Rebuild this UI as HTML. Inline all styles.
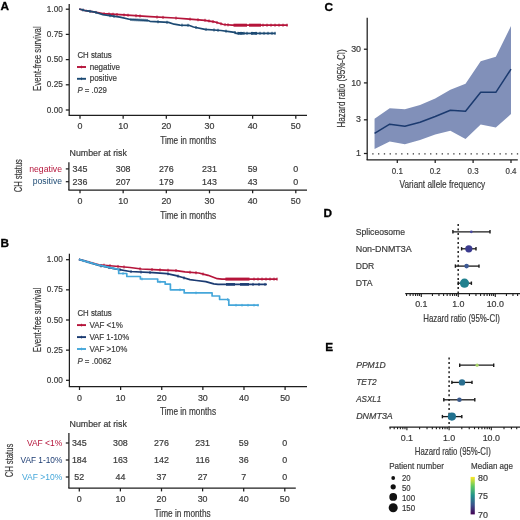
<!DOCTYPE html>
<html><head><meta charset="utf-8"><style>
html,body{margin:0;padding:0;background:#fff;width:520px;height:520px;overflow:hidden}
svg{display:block;font-family:"Liberation Sans", sans-serif;will-change:transform}
</style></head><body>
<svg width="520" height="520" viewBox="0 0 520 520">
<text x="0.60" y="10.30" font-size="11.8" fill="#000" stroke="#000" stroke-width="0.3" font-weight="bold">A</text>
<line x1="69.20" y1="4.00" x2="69.20" y2="115.40" stroke="#1e1e1e" stroke-width="1.25" />
<line x1="68.65" y1="115.40" x2="307.00" y2="115.40" stroke="#1e1e1e" stroke-width="1.25" />
<line x1="65.80" y1="9.20" x2="69.20" y2="9.20" stroke="#1e1e1e" stroke-width="1.25" />
<text x="62.80" y="11.80" font-size="8.9" fill="#3a3a3a" stroke="#3a3a3a" stroke-width="0.2" text-anchor="end" textLength="16.00" lengthAdjust="spacingAndGlyphs">1.00</text>
<line x1="65.80" y1="34.40" x2="69.20" y2="34.40" stroke="#1e1e1e" stroke-width="1.25" />
<text x="62.80" y="37.00" font-size="8.9" fill="#3a3a3a" stroke="#3a3a3a" stroke-width="0.2" text-anchor="end" textLength="16.00" lengthAdjust="spacingAndGlyphs">0.75</text>
<line x1="65.80" y1="59.60" x2="69.20" y2="59.60" stroke="#1e1e1e" stroke-width="1.25" />
<text x="62.80" y="62.20" font-size="8.9" fill="#3a3a3a" stroke="#3a3a3a" stroke-width="0.2" text-anchor="end" textLength="16.00" lengthAdjust="spacingAndGlyphs">0.50</text>
<line x1="65.80" y1="84.80" x2="69.20" y2="84.80" stroke="#1e1e1e" stroke-width="1.25" />
<text x="62.80" y="87.40" font-size="8.9" fill="#3a3a3a" stroke="#3a3a3a" stroke-width="0.2" text-anchor="end" textLength="16.00" lengthAdjust="spacingAndGlyphs">0.25</text>
<line x1="65.80" y1="110.00" x2="69.20" y2="110.00" stroke="#1e1e1e" stroke-width="1.25" />
<text x="62.80" y="112.60" font-size="8.9" fill="#3a3a3a" stroke="#3a3a3a" stroke-width="0.2" text-anchor="end" textLength="16.00" lengthAdjust="spacingAndGlyphs">0.00</text>
<line x1="80.00" y1="115.40" x2="80.00" y2="118.80" stroke="#1e1e1e" stroke-width="1.25" />
<text x="80.00" y="129.00" font-size="8.9" fill="#3a3a3a" stroke="#3a3a3a" stroke-width="0.2" text-anchor="middle">0</text>
<line x1="123.16" y1="115.40" x2="123.16" y2="118.80" stroke="#1e1e1e" stroke-width="1.25" />
<text x="123.16" y="129.00" font-size="8.9" fill="#3a3a3a" stroke="#3a3a3a" stroke-width="0.2" text-anchor="middle">10</text>
<line x1="166.32" y1="115.40" x2="166.32" y2="118.80" stroke="#1e1e1e" stroke-width="1.25" />
<text x="166.32" y="129.00" font-size="8.9" fill="#3a3a3a" stroke="#3a3a3a" stroke-width="0.2" text-anchor="middle">20</text>
<line x1="209.48" y1="115.40" x2="209.48" y2="118.80" stroke="#1e1e1e" stroke-width="1.25" />
<text x="209.48" y="129.00" font-size="8.9" fill="#3a3a3a" stroke="#3a3a3a" stroke-width="0.2" text-anchor="middle">30</text>
<line x1="252.64" y1="115.40" x2="252.64" y2="118.80" stroke="#1e1e1e" stroke-width="1.25" />
<text x="252.64" y="129.00" font-size="8.9" fill="#3a3a3a" stroke="#3a3a3a" stroke-width="0.2" text-anchor="middle">40</text>
<line x1="295.80" y1="115.40" x2="295.80" y2="118.80" stroke="#1e1e1e" stroke-width="1.25" />
<text x="295.80" y="129.00" font-size="8.9" fill="#3a3a3a" stroke="#3a3a3a" stroke-width="0.2" text-anchor="middle">50</text>
<text x="188.20" y="143.70" font-size="10.4" fill="#3a3a3a" stroke="#3a3a3a" stroke-width="0.2" text-anchor="middle" textLength="56.00" lengthAdjust="spacingAndGlyphs">Time in months</text>
<text x="40.60" y="58.60" font-size="10.4" fill="#3a3a3a" stroke="#3a3a3a" stroke-width="0.2" text-anchor="middle" textLength="64.60" lengthAdjust="spacingAndGlyphs" transform="rotate(-90 40.60 58.60)">Event-free survival</text>
<path d="M79.20,9.00 L85.60,10.70 L95.20,12.20 L102.90,13.60 L120.00,14.70 L150.00,16.70 L175.00,18.00 L186.50,18.90 L205.00,20.30 L214.20,21.80 L223.50,24.50 L232.00,25.20 L287.70,25.20" stroke="#b5143a" stroke-width="1.7" fill="none" stroke-linejoin="round"/>
<line x1="104.00" y1="12.17" x2="104.00" y2="15.17" stroke="#b5143a" stroke-width="1.0" />
<line x1="109.00" y1="12.49" x2="109.00" y2="15.49" stroke="#b5143a" stroke-width="1.0" />
<line x1="113.00" y1="12.75" x2="113.00" y2="15.75" stroke="#b5143a" stroke-width="1.0" />
<line x1="117.00" y1="13.01" x2="117.00" y2="16.01" stroke="#b5143a" stroke-width="1.0" />
<line x1="124.00" y1="13.47" x2="124.00" y2="16.47" stroke="#b5143a" stroke-width="1.0" />
<line x1="128.00" y1="13.73" x2="128.00" y2="16.73" stroke="#b5143a" stroke-width="1.0" />
<line x1="136.00" y1="14.27" x2="136.00" y2="17.27" stroke="#b5143a" stroke-width="1.0" />
<line x1="140.00" y1="14.53" x2="140.00" y2="17.53" stroke="#b5143a" stroke-width="1.0" />
<line x1="157.00" y1="15.56" x2="157.00" y2="18.56" stroke="#b5143a" stroke-width="1.0" />
<line x1="163.00" y1="15.88" x2="163.00" y2="18.88" stroke="#b5143a" stroke-width="1.0" />
<line x1="176.00" y1="16.58" x2="176.00" y2="19.58" stroke="#b5143a" stroke-width="1.0" />
<line x1="190.00" y1="17.66" x2="190.00" y2="20.66" stroke="#b5143a" stroke-width="1.0" />
<line x1="198.00" y1="18.27" x2="198.00" y2="21.27" stroke="#b5143a" stroke-width="1.0" />
<line x1="205.00" y1="18.80" x2="205.00" y2="21.80" stroke="#b5143a" stroke-width="1.0" />
<line x1="209.00" y1="19.45" x2="209.00" y2="22.45" stroke="#b5143a" stroke-width="1.0" />
<line x1="213.00" y1="20.10" x2="213.00" y2="23.10" stroke="#b5143a" stroke-width="1.0" />
<line x1="217.00" y1="21.11" x2="217.00" y2="24.11" stroke="#b5143a" stroke-width="1.0" />
<line x1="221.00" y1="22.27" x2="221.00" y2="25.27" stroke="#b5143a" stroke-width="1.0" />
<line x1="225.00" y1="23.12" x2="225.00" y2="26.12" stroke="#b5143a" stroke-width="1.0" />
<line x1="228.00" y1="23.37" x2="228.00" y2="26.37" stroke="#b5143a" stroke-width="1.0" />
<line x1="263.00" y1="23.70" x2="263.00" y2="26.70" stroke="#b5143a" stroke-width="1.0" />
<line x1="267.00" y1="23.70" x2="267.00" y2="26.70" stroke="#b5143a" stroke-width="1.0" />
<line x1="271.00" y1="23.70" x2="271.00" y2="26.70" stroke="#b5143a" stroke-width="1.0" />
<line x1="275.00" y1="23.70" x2="275.00" y2="26.70" stroke="#b5143a" stroke-width="1.0" />
<line x1="279.00" y1="23.70" x2="279.00" y2="26.70" stroke="#b5143a" stroke-width="1.0" />
<line x1="283.00" y1="23.70" x2="283.00" y2="26.70" stroke="#b5143a" stroke-width="1.0" />
<line x1="287.00" y1="23.70" x2="287.00" y2="26.70" stroke="#b5143a" stroke-width="1.0" />
<rect x="233.50" y="23.70" width="13.50" height="3.00" fill="#b5143a"/>
<rect x="249.00" y="23.70" width="12.00" height="3.00" fill="#b5143a"/>
<path d="M79.20,9.00 L85.60,10.70 L95.20,12.20 L102.90,14.60 L120.00,17.20 L130.40,19.50 L147.70,20.50 L150.00,21.30 L168.50,22.40 L174.20,24.20 L180.00,25.10 L188.80,25.30 L193.50,27.00 L205.00,29.30 L221.00,30.50 L229.20,31.60 L234.60,32.30 L236.00,33.30 L275.60,33.30" stroke="#1c4a73" stroke-width="1.7" fill="none" stroke-linejoin="round"/>
<line x1="83.00" y1="8.51" x2="83.00" y2="11.51" stroke="#1c4a73" stroke-width="1.0" />
<line x1="90.00" y1="9.89" x2="90.00" y2="12.89" stroke="#1c4a73" stroke-width="1.0" />
<line x1="96.00" y1="10.95" x2="96.00" y2="13.95" stroke="#1c4a73" stroke-width="1.0" />
<line x1="110.00" y1="14.18" x2="110.00" y2="17.18" stroke="#1c4a73" stroke-width="1.0" />
<line x1="114.00" y1="14.79" x2="114.00" y2="17.79" stroke="#1c4a73" stroke-width="1.0" />
<line x1="131.00" y1="18.03" x2="131.00" y2="21.03" stroke="#1c4a73" stroke-width="1.0" />
<line x1="133.00" y1="18.15" x2="133.00" y2="21.15" stroke="#1c4a73" stroke-width="1.0" />
<line x1="135.00" y1="18.27" x2="135.00" y2="21.27" stroke="#1c4a73" stroke-width="1.0" />
<line x1="137.00" y1="18.38" x2="137.00" y2="21.38" stroke="#1c4a73" stroke-width="1.0" />
<line x1="139.00" y1="18.50" x2="139.00" y2="21.50" stroke="#1c4a73" stroke-width="1.0" />
<line x1="141.00" y1="18.61" x2="141.00" y2="21.61" stroke="#1c4a73" stroke-width="1.0" />
<line x1="143.00" y1="18.73" x2="143.00" y2="21.73" stroke="#1c4a73" stroke-width="1.0" />
<line x1="145.00" y1="18.84" x2="145.00" y2="21.84" stroke="#1c4a73" stroke-width="1.0" />
<line x1="147.00" y1="18.96" x2="147.00" y2="21.96" stroke="#1c4a73" stroke-width="1.0" />
<line x1="158.00" y1="20.28" x2="158.00" y2="23.28" stroke="#1c4a73" stroke-width="1.0" />
<line x1="167.00" y1="20.81" x2="167.00" y2="23.81" stroke="#1c4a73" stroke-width="1.0" />
<line x1="182.00" y1="23.65" x2="182.00" y2="26.65" stroke="#1c4a73" stroke-width="1.0" />
<line x1="188.00" y1="23.78" x2="188.00" y2="26.78" stroke="#1c4a73" stroke-width="1.0" />
<line x1="196.00" y1="26.00" x2="196.00" y2="29.00" stroke="#1c4a73" stroke-width="1.0" />
<line x1="206.00" y1="27.88" x2="206.00" y2="30.88" stroke="#1c4a73" stroke-width="1.0" />
<line x1="214.00" y1="28.48" x2="214.00" y2="31.48" stroke="#1c4a73" stroke-width="1.0" />
<line x1="218.00" y1="28.77" x2="218.00" y2="31.77" stroke="#1c4a73" stroke-width="1.0" />
<line x1="226.00" y1="29.67" x2="226.00" y2="32.67" stroke="#1c4a73" stroke-width="1.0" />
<line x1="235.00" y1="31.09" x2="235.00" y2="34.09" stroke="#1c4a73" stroke-width="1.0" />
<line x1="238.00" y1="31.80" x2="238.00" y2="34.80" stroke="#1c4a73" stroke-width="1.0" />
<line x1="241.00" y1="31.80" x2="241.00" y2="34.80" stroke="#1c4a73" stroke-width="1.0" />
<line x1="244.00" y1="31.80" x2="244.00" y2="34.80" stroke="#1c4a73" stroke-width="1.0" />
<line x1="247.00" y1="31.80" x2="247.00" y2="34.80" stroke="#1c4a73" stroke-width="1.0" />
<line x1="252.00" y1="31.80" x2="252.00" y2="34.80" stroke="#1c4a73" stroke-width="1.0" />
<line x1="256.00" y1="31.80" x2="256.00" y2="34.80" stroke="#1c4a73" stroke-width="1.0" />
<line x1="260.00" y1="31.80" x2="260.00" y2="34.80" stroke="#1c4a73" stroke-width="1.0" />
<line x1="264.00" y1="31.80" x2="264.00" y2="34.80" stroke="#1c4a73" stroke-width="1.0" />
<line x1="268.00" y1="31.80" x2="268.00" y2="34.80" stroke="#1c4a73" stroke-width="1.0" />
<line x1="272.00" y1="31.80" x2="272.00" y2="34.80" stroke="#1c4a73" stroke-width="1.0" />
<line x1="275.00" y1="31.80" x2="275.00" y2="34.80" stroke="#1c4a73" stroke-width="1.0" />
<rect x="238.00" y="32.00" width="5.50" height="2.60" fill="#1c4a73"/>
<rect x="251.00" y="32.00" width="6.00" height="2.60" fill="#1c4a73"/>
<text x="77.40" y="57.70" font-size="9.2" fill="#3a3a3a" stroke="#3a3a3a" stroke-width="0.2" textLength="34.40" lengthAdjust="spacingAndGlyphs">CH status</text>
<line x1="77.00" y1="67.00" x2="86.00" y2="67.00" stroke="#b5143a" stroke-width="1.9" />
<line x1="81.50" y1="65.70" x2="81.50" y2="68.30" stroke="#b5143a" stroke-width="0.9" />
<line x1="77.00" y1="78.80" x2="86.00" y2="78.80" stroke="#1c4a73" stroke-width="1.9" />
<line x1="81.50" y1="77.50" x2="81.50" y2="80.10" stroke="#1c4a73" stroke-width="0.9" />
<text x="89.70" y="69.50" font-size="9.2" fill="#3a3a3a" stroke="#3a3a3a" stroke-width="0.2" textLength="30.30" lengthAdjust="spacingAndGlyphs">negative</text>
<text x="89.70" y="81.30" font-size="9.2" fill="#3a3a3a" stroke="#3a3a3a" stroke-width="0.2" textLength="27.20" lengthAdjust="spacingAndGlyphs">positive</text>
<text x="77.4" y="92.6" font-size="9.2" fill="#3a3a3a" stroke="#3a3a3a" stroke-width="0.2" textLength="29.5" lengthAdjust="spacingAndGlyphs"><tspan font-style="italic">P</tspan> = .029</text>
<text x="69.60" y="155.80" font-size="9.2" fill="#3a3a3a" stroke="#3a3a3a" stroke-width="0.2" textLength="57.30" lengthAdjust="spacingAndGlyphs">Number at risk</text>
<line x1="68.90" y1="162.30" x2="68.90" y2="190.00" stroke="#1e1e1e" stroke-width="1.25" />
<line x1="68.35" y1="190.00" x2="307.00" y2="190.00" stroke="#1e1e1e" stroke-width="1.25" />
<line x1="65.80" y1="168.90" x2="68.90" y2="168.90" stroke="#1e1e1e" stroke-width="1.25" />
<line x1="65.80" y1="181.70" x2="68.90" y2="181.70" stroke="#1e1e1e" stroke-width="1.25" />
<text x="62.00" y="171.60" font-size="9.2" fill="#b5143a" text-anchor="end" textLength="32.80" lengthAdjust="spacingAndGlyphs">negative</text>
<text x="62.00" y="184.40" font-size="9.2" fill="#1c4a73" text-anchor="end" textLength="29.20" lengthAdjust="spacingAndGlyphs">positive</text>
<text x="80.00" y="171.70" font-size="8.9" fill="#3a3a3a" stroke="#3a3a3a" stroke-width="0.2" text-anchor="middle">345</text>
<text x="80.00" y="184.50" font-size="8.9" fill="#3a3a3a" stroke="#3a3a3a" stroke-width="0.2" text-anchor="middle">236</text>
<line x1="80.00" y1="190.00" x2="80.00" y2="193.30" stroke="#1e1e1e" stroke-width="1.25" />
<text x="80.00" y="203.80" font-size="8.9" fill="#3a3a3a" stroke="#3a3a3a" stroke-width="0.2" text-anchor="middle">0</text>
<text x="123.16" y="171.70" font-size="8.9" fill="#3a3a3a" stroke="#3a3a3a" stroke-width="0.2" text-anchor="middle">308</text>
<text x="123.16" y="184.50" font-size="8.9" fill="#3a3a3a" stroke="#3a3a3a" stroke-width="0.2" text-anchor="middle">207</text>
<line x1="123.16" y1="190.00" x2="123.16" y2="193.30" stroke="#1e1e1e" stroke-width="1.25" />
<text x="123.16" y="203.80" font-size="8.9" fill="#3a3a3a" stroke="#3a3a3a" stroke-width="0.2" text-anchor="middle">10</text>
<text x="166.32" y="171.70" font-size="8.9" fill="#3a3a3a" stroke="#3a3a3a" stroke-width="0.2" text-anchor="middle">276</text>
<text x="166.32" y="184.50" font-size="8.9" fill="#3a3a3a" stroke="#3a3a3a" stroke-width="0.2" text-anchor="middle">179</text>
<line x1="166.32" y1="190.00" x2="166.32" y2="193.30" stroke="#1e1e1e" stroke-width="1.25" />
<text x="166.32" y="203.80" font-size="8.9" fill="#3a3a3a" stroke="#3a3a3a" stroke-width="0.2" text-anchor="middle">20</text>
<text x="209.48" y="171.70" font-size="8.9" fill="#3a3a3a" stroke="#3a3a3a" stroke-width="0.2" text-anchor="middle">231</text>
<text x="209.48" y="184.50" font-size="8.9" fill="#3a3a3a" stroke="#3a3a3a" stroke-width="0.2" text-anchor="middle">143</text>
<line x1="209.48" y1="190.00" x2="209.48" y2="193.30" stroke="#1e1e1e" stroke-width="1.25" />
<text x="209.48" y="203.80" font-size="8.9" fill="#3a3a3a" stroke="#3a3a3a" stroke-width="0.2" text-anchor="middle">30</text>
<text x="252.64" y="171.70" font-size="8.9" fill="#3a3a3a" stroke="#3a3a3a" stroke-width="0.2" text-anchor="middle">59</text>
<text x="252.64" y="184.50" font-size="8.9" fill="#3a3a3a" stroke="#3a3a3a" stroke-width="0.2" text-anchor="middle">43</text>
<line x1="252.64" y1="190.00" x2="252.64" y2="193.30" stroke="#1e1e1e" stroke-width="1.25" />
<text x="252.64" y="203.80" font-size="8.9" fill="#3a3a3a" stroke="#3a3a3a" stroke-width="0.2" text-anchor="middle">40</text>
<text x="295.80" y="171.70" font-size="8.9" fill="#3a3a3a" stroke="#3a3a3a" stroke-width="0.2" text-anchor="middle">0</text>
<text x="295.80" y="184.50" font-size="8.9" fill="#3a3a3a" stroke="#3a3a3a" stroke-width="0.2" text-anchor="middle">0</text>
<line x1="295.80" y1="190.00" x2="295.80" y2="193.30" stroke="#1e1e1e" stroke-width="1.25" />
<text x="295.80" y="203.80" font-size="8.9" fill="#3a3a3a" stroke="#3a3a3a" stroke-width="0.2" text-anchor="middle">50</text>
<text x="188.20" y="218.50" font-size="10.4" fill="#3a3a3a" stroke="#3a3a3a" stroke-width="0.2" text-anchor="middle" textLength="56.00" lengthAdjust="spacingAndGlyphs">Time in months</text>
<text x="22.40" y="175.70" font-size="10.4" fill="#3a3a3a" stroke="#3a3a3a" stroke-width="0.2" text-anchor="middle" textLength="33.20" lengthAdjust="spacingAndGlyphs" transform="rotate(-90 22.40 175.70)">CH status</text>
<text x="0.40" y="246.80" font-size="11.8" fill="#000" stroke="#000" stroke-width="0.3" font-weight="bold">B</text>
<line x1="69.40" y1="253.70" x2="69.40" y2="386.70" stroke="#1e1e1e" stroke-width="1.25" />
<line x1="68.85" y1="386.70" x2="307.00" y2="386.70" stroke="#1e1e1e" stroke-width="1.25" />
<line x1="66.00" y1="259.70" x2="69.40" y2="259.70" stroke="#1e1e1e" stroke-width="1.25" />
<text x="62.80" y="262.30" font-size="8.9" fill="#3a3a3a" stroke="#3a3a3a" stroke-width="0.2" text-anchor="end" textLength="16.00" lengthAdjust="spacingAndGlyphs">1.00</text>
<line x1="66.00" y1="289.85" x2="69.40" y2="289.85" stroke="#1e1e1e" stroke-width="1.25" />
<text x="62.80" y="292.45" font-size="8.9" fill="#3a3a3a" stroke="#3a3a3a" stroke-width="0.2" text-anchor="end" textLength="16.00" lengthAdjust="spacingAndGlyphs">0.75</text>
<line x1="66.00" y1="320.00" x2="69.40" y2="320.00" stroke="#1e1e1e" stroke-width="1.25" />
<text x="62.80" y="322.60" font-size="8.9" fill="#3a3a3a" stroke="#3a3a3a" stroke-width="0.2" text-anchor="end" textLength="16.00" lengthAdjust="spacingAndGlyphs">0.50</text>
<line x1="66.00" y1="350.15" x2="69.40" y2="350.15" stroke="#1e1e1e" stroke-width="1.25" />
<text x="62.80" y="352.75" font-size="8.9" fill="#3a3a3a" stroke="#3a3a3a" stroke-width="0.2" text-anchor="end" textLength="16.00" lengthAdjust="spacingAndGlyphs">0.25</text>
<line x1="66.00" y1="380.30" x2="69.40" y2="380.30" stroke="#1e1e1e" stroke-width="1.25" />
<text x="62.80" y="382.90" font-size="8.9" fill="#3a3a3a" stroke="#3a3a3a" stroke-width="0.2" text-anchor="end" textLength="16.00" lengthAdjust="spacingAndGlyphs">0.00</text>
<line x1="79.50" y1="386.70" x2="79.50" y2="390.00" stroke="#1e1e1e" stroke-width="1.25" />
<text x="79.50" y="400.50" font-size="8.9" fill="#3a3a3a" stroke="#3a3a3a" stroke-width="0.2" text-anchor="middle">0</text>
<line x1="120.62" y1="386.70" x2="120.62" y2="390.00" stroke="#1e1e1e" stroke-width="1.25" />
<text x="120.62" y="400.50" font-size="8.9" fill="#3a3a3a" stroke="#3a3a3a" stroke-width="0.2" text-anchor="middle">10</text>
<line x1="161.74" y1="386.70" x2="161.74" y2="390.00" stroke="#1e1e1e" stroke-width="1.25" />
<text x="161.74" y="400.50" font-size="8.9" fill="#3a3a3a" stroke="#3a3a3a" stroke-width="0.2" text-anchor="middle">20</text>
<line x1="202.86" y1="386.70" x2="202.86" y2="390.00" stroke="#1e1e1e" stroke-width="1.25" />
<text x="202.86" y="400.50" font-size="8.9" fill="#3a3a3a" stroke="#3a3a3a" stroke-width="0.2" text-anchor="middle">30</text>
<line x1="243.98" y1="386.70" x2="243.98" y2="390.00" stroke="#1e1e1e" stroke-width="1.25" />
<text x="243.98" y="400.50" font-size="8.9" fill="#3a3a3a" stroke="#3a3a3a" stroke-width="0.2" text-anchor="middle">40</text>
<line x1="285.10" y1="386.70" x2="285.10" y2="390.00" stroke="#1e1e1e" stroke-width="1.25" />
<text x="285.10" y="400.50" font-size="8.9" fill="#3a3a3a" stroke="#3a3a3a" stroke-width="0.2" text-anchor="middle">50</text>
<text x="188.00" y="415.00" font-size="10.4" fill="#3a3a3a" stroke="#3a3a3a" stroke-width="0.2" text-anchor="middle" textLength="56.00" lengthAdjust="spacingAndGlyphs">Time in months</text>
<text x="40.60" y="320.00" font-size="10.4" fill="#3a3a3a" stroke="#3a3a3a" stroke-width="0.2" text-anchor="middle" textLength="64.60" lengthAdjust="spacingAndGlyphs" transform="rotate(-90 40.60 320.00)">Event-free survival</text>
<path d="M78.90,259.40 L99.00,264.80 L112.90,266.00 L130.00,267.50 L141.50,269.00 L158.80,269.80 L176.20,270.60 L185.00,271.80 L198.80,273.00 L208.10,275.30 L217.30,278.70 L222.00,279.10 L277.30,279.10" stroke="#b5143a" stroke-width="1.7" fill="none" stroke-linejoin="round"/>
<line x1="104.00" y1="263.73" x2="104.00" y2="266.73" stroke="#b5143a" stroke-width="1.0" />
<line x1="110.00" y1="264.25" x2="110.00" y2="267.25" stroke="#b5143a" stroke-width="1.0" />
<line x1="118.00" y1="264.95" x2="118.00" y2="267.95" stroke="#b5143a" stroke-width="1.0" />
<line x1="124.00" y1="265.47" x2="124.00" y2="268.47" stroke="#b5143a" stroke-width="1.0" />
<line x1="140.00" y1="267.30" x2="140.00" y2="270.30" stroke="#b5143a" stroke-width="1.0" />
<line x1="152.00" y1="267.99" x2="152.00" y2="270.99" stroke="#b5143a" stroke-width="1.0" />
<line x1="160.00" y1="268.36" x2="160.00" y2="271.36" stroke="#b5143a" stroke-width="1.0" />
<line x1="168.00" y1="268.72" x2="168.00" y2="271.72" stroke="#b5143a" stroke-width="1.0" />
<line x1="176.00" y1="269.09" x2="176.00" y2="272.09" stroke="#b5143a" stroke-width="1.0" />
<line x1="190.00" y1="270.73" x2="190.00" y2="273.73" stroke="#b5143a" stroke-width="1.0" />
<line x1="196.00" y1="271.26" x2="196.00" y2="274.26" stroke="#b5143a" stroke-width="1.0" />
<line x1="203.00" y1="272.54" x2="203.00" y2="275.54" stroke="#b5143a" stroke-width="1.0" />
<line x1="254.00" y1="277.60" x2="254.00" y2="280.60" stroke="#b5143a" stroke-width="1.0" />
<line x1="258.00" y1="277.60" x2="258.00" y2="280.60" stroke="#b5143a" stroke-width="1.0" />
<line x1="262.00" y1="277.60" x2="262.00" y2="280.60" stroke="#b5143a" stroke-width="1.0" />
<line x1="266.00" y1="277.60" x2="266.00" y2="280.60" stroke="#b5143a" stroke-width="1.0" />
<line x1="270.00" y1="277.60" x2="270.00" y2="280.60" stroke="#b5143a" stroke-width="1.0" />
<line x1="274.00" y1="277.60" x2="274.00" y2="280.60" stroke="#b5143a" stroke-width="1.0" />
<line x1="277.00" y1="277.60" x2="277.00" y2="280.60" stroke="#b5143a" stroke-width="1.0" />
<rect x="225.40" y="277.60" width="24.10" height="3.00" fill="#b5143a"/>
<path d="M78.90,259.40 L99.00,265.50 L115.20,268.80 L130.00,271.50 L153.00,272.70 L166.90,273.60 L176.20,275.60 L181.90,277.30 L190.00,279.60 L196.50,280.50 L205.80,281.60 L213.80,283.90 L218.00,284.40 L266.90,284.40" stroke="#1b3b72" stroke-width="1.7" fill="none" stroke-linejoin="round"/>
<line x1="101.00" y1="264.41" x2="101.00" y2="267.41" stroke="#1b3b72" stroke-width="1.0" />
<line x1="109.00" y1="266.04" x2="109.00" y2="269.04" stroke="#1b3b72" stroke-width="1.0" />
<line x1="120.00" y1="268.18" x2="120.00" y2="271.18" stroke="#1b3b72" stroke-width="1.0" />
<line x1="131.00" y1="270.05" x2="131.00" y2="273.05" stroke="#1b3b72" stroke-width="1.0" />
<line x1="141.00" y1="270.57" x2="141.00" y2="273.57" stroke="#1b3b72" stroke-width="1.0" />
<line x1="150.00" y1="271.04" x2="150.00" y2="274.04" stroke="#1b3b72" stroke-width="1.0" />
<line x1="168.00" y1="272.34" x2="168.00" y2="275.34" stroke="#1b3b72" stroke-width="1.0" />
<line x1="178.00" y1="274.64" x2="178.00" y2="277.64" stroke="#1b3b72" stroke-width="1.0" />
<line x1="184.00" y1="276.40" x2="184.00" y2="279.40" stroke="#1b3b72" stroke-width="1.0" />
<line x1="253.00" y1="282.90" x2="253.00" y2="285.90" stroke="#1b3b72" stroke-width="1.0" />
<line x1="259.00" y1="282.90" x2="259.00" y2="285.90" stroke="#1b3b72" stroke-width="1.0" />
<line x1="265.00" y1="282.90" x2="265.00" y2="285.90" stroke="#1b3b72" stroke-width="1.0" />
<rect x="226.00" y="283.10" width="9.00" height="2.60" fill="#1b3b72"/>
<rect x="240.00" y="283.10" width="9.00" height="2.60" fill="#1b3b72"/>
<path d="M78.90,259.40 L99.00,265.20 L118.70,269.40 L118.70,273.50 L126.80,273.50 L126.80,276.50 L140.40,276.50 L140.40,279.00 L157.70,279.00 L157.70,281.90 L165.20,281.90 L165.20,284.20 L170.40,284.20 L170.40,289.80 L184.20,289.80 L184.20,292.90 L212.10,292.90 L212.10,296.00 L219.60,296.00 L219.60,299.50 L228.80,299.50 L228.80,305.20 L258.80,305.20" stroke="#45a7da" stroke-width="1.7" fill="none" stroke-linejoin="round"/>
<line x1="84.00" y1="259.57" x2="84.00" y2="262.17" stroke="#45a7da" stroke-width="1.0" />
<line x1="88.00" y1="260.73" x2="88.00" y2="263.33" stroke="#45a7da" stroke-width="1.0" />
<line x1="92.00" y1="261.88" x2="92.00" y2="264.48" stroke="#45a7da" stroke-width="1.0" />
<line x1="96.00" y1="263.03" x2="96.00" y2="265.63" stroke="#45a7da" stroke-width="1.0" />
<line x1="105.00" y1="265.18" x2="105.00" y2="267.78" stroke="#45a7da" stroke-width="1.0" />
<line x1="113.00" y1="266.88" x2="113.00" y2="269.48" stroke="#45a7da" stroke-width="1.0" />
<line x1="123.00" y1="272.20" x2="123.00" y2="274.80" stroke="#45a7da" stroke-width="1.0" />
<line x1="142.00" y1="277.70" x2="142.00" y2="280.30" stroke="#45a7da" stroke-width="1.0" />
<line x1="160.00" y1="280.60" x2="160.00" y2="283.20" stroke="#45a7da" stroke-width="1.0" />
<line x1="180.00" y1="288.50" x2="180.00" y2="291.10" stroke="#45a7da" stroke-width="1.0" />
<line x1="196.00" y1="291.60" x2="196.00" y2="294.20" stroke="#45a7da" stroke-width="1.0" />
<line x1="227.70" y1="298.20" x2="227.70" y2="300.80" stroke="#45a7da" stroke-width="1.0" />
<line x1="236.00" y1="303.90" x2="236.00" y2="306.50" stroke="#45a7da" stroke-width="1.0" />
<line x1="242.00" y1="303.90" x2="242.00" y2="306.50" stroke="#45a7da" stroke-width="1.0" />
<line x1="248.00" y1="303.90" x2="248.00" y2="306.50" stroke="#45a7da" stroke-width="1.0" />
<line x1="254.00" y1="303.90" x2="254.00" y2="306.50" stroke="#45a7da" stroke-width="1.0" />
<line x1="258.00" y1="303.90" x2="258.00" y2="306.50" stroke="#45a7da" stroke-width="1.0" />
<text x="77.40" y="316.20" font-size="9.2" fill="#3a3a3a" stroke="#3a3a3a" stroke-width="0.2" textLength="34.40" lengthAdjust="spacingAndGlyphs">CH status</text>
<line x1="77.00" y1="325.10" x2="86.00" y2="325.10" stroke="#b5143a" stroke-width="1.9" />
<line x1="81.50" y1="323.80" x2="81.50" y2="326.40" stroke="#b5143a" stroke-width="0.9" />
<text x="89.40" y="327.50" font-size="9.2" fill="#3a3a3a" stroke="#3a3a3a" stroke-width="0.2" textLength="33.40" lengthAdjust="spacingAndGlyphs">VAF &lt;1%</text>
<line x1="77.00" y1="337.10" x2="86.00" y2="337.10" stroke="#1b3b72" stroke-width="1.9" />
<line x1="81.50" y1="335.80" x2="81.50" y2="338.40" stroke="#1b3b72" stroke-width="0.9" />
<text x="89.40" y="339.70" font-size="9.2" fill="#3a3a3a" stroke="#3a3a3a" stroke-width="0.2" textLength="39.80" lengthAdjust="spacingAndGlyphs">VAF 1-10%</text>
<line x1="77.00" y1="349.00" x2="86.00" y2="349.00" stroke="#45a7da" stroke-width="1.9" />
<line x1="81.50" y1="347.70" x2="81.50" y2="350.30" stroke="#45a7da" stroke-width="0.9" />
<text x="89.40" y="351.60" font-size="9.2" fill="#3a3a3a" stroke="#3a3a3a" stroke-width="0.2" textLength="37.90" lengthAdjust="spacingAndGlyphs">VAF &gt;10%</text>
<text x="77.4" y="364.3" font-size="9.2" fill="#3a3a3a" stroke="#3a3a3a" stroke-width="0.2" textLength="34.1" lengthAdjust="spacingAndGlyphs"><tspan font-style="italic">P</tspan> = .0062</text>
<text x="69.60" y="427.20" font-size="9.2" fill="#3a3a3a" stroke="#3a3a3a" stroke-width="0.2" textLength="57.30" lengthAdjust="spacingAndGlyphs">Number at risk</text>
<line x1="68.90" y1="433.00" x2="68.90" y2="488.10" stroke="#1e1e1e" stroke-width="1.25" />
<line x1="68.30" y1="488.10" x2="295.80" y2="488.10" stroke="#1e1e1e" stroke-width="1.25" />
<line x1="65.80" y1="443.00" x2="68.90" y2="443.00" stroke="#1e1e1e" stroke-width="1.25" />
<text x="62.30" y="445.90" font-size="9.2" fill="#b5143a" text-anchor="end" textLength="35.40" lengthAdjust="spacingAndGlyphs">VAF &lt;1%</text>
<line x1="65.80" y1="460.00" x2="68.90" y2="460.00" stroke="#1e1e1e" stroke-width="1.25" />
<text x="62.30" y="462.90" font-size="9.2" fill="#1b3b72" text-anchor="end" textLength="41.80" lengthAdjust="spacingAndGlyphs">VAF 1-10%</text>
<line x1="65.80" y1="477.00" x2="68.90" y2="477.00" stroke="#1e1e1e" stroke-width="1.25" />
<text x="62.30" y="479.90" font-size="9.2" fill="#45a7da" text-anchor="end" textLength="40.30" lengthAdjust="spacingAndGlyphs">VAF &gt;10%</text>
<text x="79.30" y="446.20" font-size="8.9" fill="#3a3a3a" stroke="#3a3a3a" stroke-width="0.2" text-anchor="middle">345</text>
<text x="79.30" y="463.10" font-size="8.9" fill="#3a3a3a" stroke="#3a3a3a" stroke-width="0.2" text-anchor="middle">184</text>
<text x="79.30" y="480.20" font-size="8.9" fill="#3a3a3a" stroke="#3a3a3a" stroke-width="0.2" text-anchor="middle">52</text>
<line x1="79.30" y1="488.10" x2="79.30" y2="491.40" stroke="#1e1e1e" stroke-width="1.25" />
<text x="79.30" y="502.30" font-size="8.9" fill="#3a3a3a" stroke="#3a3a3a" stroke-width="0.2" text-anchor="middle">0</text>
<text x="120.40" y="446.20" font-size="8.9" fill="#3a3a3a" stroke="#3a3a3a" stroke-width="0.2" text-anchor="middle">308</text>
<text x="120.40" y="463.10" font-size="8.9" fill="#3a3a3a" stroke="#3a3a3a" stroke-width="0.2" text-anchor="middle">163</text>
<text x="120.40" y="480.20" font-size="8.9" fill="#3a3a3a" stroke="#3a3a3a" stroke-width="0.2" text-anchor="middle">44</text>
<line x1="120.40" y1="488.10" x2="120.40" y2="491.40" stroke="#1e1e1e" stroke-width="1.25" />
<text x="120.40" y="502.30" font-size="8.9" fill="#3a3a3a" stroke="#3a3a3a" stroke-width="0.2" text-anchor="middle">10</text>
<text x="161.50" y="446.20" font-size="8.9" fill="#3a3a3a" stroke="#3a3a3a" stroke-width="0.2" text-anchor="middle">276</text>
<text x="161.50" y="463.10" font-size="8.9" fill="#3a3a3a" stroke="#3a3a3a" stroke-width="0.2" text-anchor="middle">142</text>
<text x="161.50" y="480.20" font-size="8.9" fill="#3a3a3a" stroke="#3a3a3a" stroke-width="0.2" text-anchor="middle">37</text>
<line x1="161.50" y1="488.10" x2="161.50" y2="491.40" stroke="#1e1e1e" stroke-width="1.25" />
<text x="161.50" y="502.30" font-size="8.9" fill="#3a3a3a" stroke="#3a3a3a" stroke-width="0.2" text-anchor="middle">20</text>
<text x="202.60" y="446.20" font-size="8.9" fill="#3a3a3a" stroke="#3a3a3a" stroke-width="0.2" text-anchor="middle">231</text>
<text x="202.60" y="463.10" font-size="8.9" fill="#3a3a3a" stroke="#3a3a3a" stroke-width="0.2" text-anchor="middle">116</text>
<text x="202.60" y="480.20" font-size="8.9" fill="#3a3a3a" stroke="#3a3a3a" stroke-width="0.2" text-anchor="middle">27</text>
<line x1="202.60" y1="488.10" x2="202.60" y2="491.40" stroke="#1e1e1e" stroke-width="1.25" />
<text x="202.60" y="502.30" font-size="8.9" fill="#3a3a3a" stroke="#3a3a3a" stroke-width="0.2" text-anchor="middle">30</text>
<text x="243.70" y="446.20" font-size="8.9" fill="#3a3a3a" stroke="#3a3a3a" stroke-width="0.2" text-anchor="middle">59</text>
<text x="243.70" y="463.10" font-size="8.9" fill="#3a3a3a" stroke="#3a3a3a" stroke-width="0.2" text-anchor="middle">36</text>
<text x="243.70" y="480.20" font-size="8.9" fill="#3a3a3a" stroke="#3a3a3a" stroke-width="0.2" text-anchor="middle">7</text>
<line x1="243.70" y1="488.10" x2="243.70" y2="491.40" stroke="#1e1e1e" stroke-width="1.25" />
<text x="243.70" y="502.30" font-size="8.9" fill="#3a3a3a" stroke="#3a3a3a" stroke-width="0.2" text-anchor="middle">40</text>
<text x="284.80" y="446.20" font-size="8.9" fill="#3a3a3a" stroke="#3a3a3a" stroke-width="0.2" text-anchor="middle">0</text>
<text x="284.80" y="463.10" font-size="8.9" fill="#3a3a3a" stroke="#3a3a3a" stroke-width="0.2" text-anchor="middle">0</text>
<text x="284.80" y="480.20" font-size="8.9" fill="#3a3a3a" stroke="#3a3a3a" stroke-width="0.2" text-anchor="middle">0</text>
<line x1="284.80" y1="488.10" x2="284.80" y2="491.40" stroke="#1e1e1e" stroke-width="1.25" />
<text x="284.80" y="502.30" font-size="8.9" fill="#3a3a3a" stroke="#3a3a3a" stroke-width="0.2" text-anchor="middle">50</text>
<text x="182.60" y="516.70" font-size="10.4" fill="#3a3a3a" stroke="#3a3a3a" stroke-width="0.2" text-anchor="middle" textLength="56.00" lengthAdjust="spacingAndGlyphs">Time in months</text>
<text x="12.80" y="460.50" font-size="10.4" fill="#3a3a3a" stroke="#3a3a3a" stroke-width="0.2" text-anchor="middle" textLength="33.70" lengthAdjust="spacingAndGlyphs" transform="rotate(-90 12.80 460.50)">CH status</text>
<text x="324.40" y="10.60" font-size="11.8" fill="#000" stroke="#000" stroke-width="0.3" font-weight="bold">C</text>
<path d="M374.56,118.80 L389.72,108.30 L404.88,109.20 L420.04,105.00 L435.20,98.50 L450.36,89.70 L465.52,83.80 L480.68,61.20 L495.84,56.70 L511.00,26.00 L511.00,114.00 L495.84,127.50 L480.68,124.60 L465.52,138.90 L450.36,130.80 L435.20,134.60 L420.04,140.00 L404.88,144.30 L389.72,141.50 L374.56,149.00Z" fill="#8190b9" stroke="none"/>
<path d="M374.56,133.30 L389.72,124.20 L404.88,126.20 L420.04,122.30 L435.20,116.50 L450.36,110.30 L465.52,111.20 L480.68,92.30 L495.84,92.30 L511.00,69.20" stroke="#1b3a6f" stroke-width="1.5" fill="none" stroke-linejoin="round"/>
<line x1="372.25" y1="153.90" x2="518.50" y2="153.90" stroke="#333" stroke-width="1.4" stroke-dasharray="1.3 4.484"/>
<line x1="367.20" y1="17.70" x2="367.20" y2="159.90" stroke="#1e1e1e" stroke-width="1.25" />
<line x1="366.60" y1="159.90" x2="517.80" y2="159.90" stroke="#1e1e1e" stroke-width="1.25" />
<line x1="363.90" y1="153.50" x2="367.20" y2="153.50" stroke="#1e1e1e" stroke-width="1.25" />
<text x="361.00" y="156.10" font-size="8.9" fill="#3a3a3a" stroke="#3a3a3a" stroke-width="0.2" text-anchor="end">1</text>
<line x1="363.90" y1="119.82" x2="367.20" y2="119.82" stroke="#1e1e1e" stroke-width="1.25" />
<text x="361.00" y="122.42" font-size="8.9" fill="#3a3a3a" stroke="#3a3a3a" stroke-width="0.2" text-anchor="end">3</text>
<line x1="363.90" y1="82.90" x2="367.20" y2="82.90" stroke="#1e1e1e" stroke-width="1.25" />
<text x="361.00" y="85.50" font-size="8.9" fill="#3a3a3a" stroke="#3a3a3a" stroke-width="0.2" text-anchor="end">10</text>
<line x1="363.90" y1="49.22" x2="367.20" y2="49.22" stroke="#1e1e1e" stroke-width="1.25" />
<text x="361.00" y="51.82" font-size="8.9" fill="#3a3a3a" stroke="#3a3a3a" stroke-width="0.2" text-anchor="end">30</text>
<line x1="397.30" y1="159.90" x2="397.30" y2="163.00" stroke="#1e1e1e" stroke-width="1.25" />
<text x="397.30" y="173.60" font-size="8.9" fill="#3a3a3a" stroke="#3a3a3a" stroke-width="0.2" text-anchor="middle" textLength="11.00" lengthAdjust="spacingAndGlyphs">0.1</text>
<line x1="435.20" y1="159.90" x2="435.20" y2="163.00" stroke="#1e1e1e" stroke-width="1.25" />
<text x="435.20" y="173.60" font-size="8.9" fill="#3a3a3a" stroke="#3a3a3a" stroke-width="0.2" text-anchor="middle" textLength="11.00" lengthAdjust="spacingAndGlyphs">0.2</text>
<line x1="473.10" y1="159.90" x2="473.10" y2="163.00" stroke="#1e1e1e" stroke-width="1.25" />
<text x="473.10" y="173.60" font-size="8.9" fill="#3a3a3a" stroke="#3a3a3a" stroke-width="0.2" text-anchor="middle" textLength="11.00" lengthAdjust="spacingAndGlyphs">0.3</text>
<line x1="511.00" y1="159.90" x2="511.00" y2="163.00" stroke="#1e1e1e" stroke-width="1.25" />
<text x="511.00" y="173.60" font-size="8.9" fill="#3a3a3a" stroke="#3a3a3a" stroke-width="0.2" text-anchor="middle" textLength="11.00" lengthAdjust="spacingAndGlyphs">0.4</text>
<text x="442.40" y="188.40" font-size="10.4" fill="#3a3a3a" stroke="#3a3a3a" stroke-width="0.2" text-anchor="middle" textLength="85.60" lengthAdjust="spacingAndGlyphs">Variant allele frequency</text>
<text x="344.70" y="88.40" font-size="10.4" fill="#3a3a3a" stroke="#3a3a3a" stroke-width="0.2" text-anchor="middle" textLength="78.20" lengthAdjust="spacingAndGlyphs" transform="rotate(-90 344.70 88.40)">Hazard ratio (95%-CI)</text>
<text x="323.50" y="216.90" font-size="11.8" fill="#000" stroke="#000" stroke-width="0.3" font-weight="bold">D</text>
<text x="355.70" y="234.90" font-size="9.6" fill="#3a3a3a" stroke="#3a3a3a" stroke-width="0.2" textLength="49.40" lengthAdjust="spacingAndGlyphs">Spliceosome</text>
<text x="355.70" y="251.50" font-size="9.6" fill="#3a3a3a" stroke="#3a3a3a" stroke-width="0.2" textLength="56.00" lengthAdjust="spacingAndGlyphs">Non-DNMT3A</text>
<text x="355.70" y="268.80" font-size="9.6" fill="#3a3a3a" stroke="#3a3a3a" stroke-width="0.2" textLength="18.60" lengthAdjust="spacingAndGlyphs">DDR</text>
<text x="355.70" y="286.00" font-size="9.6" fill="#3a3a3a" stroke="#3a3a3a" stroke-width="0.2" textLength="16.80" lengthAdjust="spacingAndGlyphs">DTA</text>
<line x1="458.20" y1="223.90" x2="458.20" y2="293.70" stroke="#222" stroke-width="1.5" stroke-dasharray="2 2.5"/>
<line x1="405.20" y1="293.70" x2="520.00" y2="293.70" stroke="#1e1e1e" stroke-width="1.25" />
<line x1="406.58" y1="293.70" x2="406.58" y2="295.90" stroke="#1e1e1e" stroke-width="1.1" />
<line x1="410.16" y1="293.70" x2="410.16" y2="295.90" stroke="#1e1e1e" stroke-width="1.1" />
<line x1="413.09" y1="293.70" x2="413.09" y2="295.90" stroke="#1e1e1e" stroke-width="1.1" />
<line x1="415.57" y1="293.70" x2="415.57" y2="295.90" stroke="#1e1e1e" stroke-width="1.1" />
<line x1="417.71" y1="293.70" x2="417.71" y2="295.90" stroke="#1e1e1e" stroke-width="1.1" />
<line x1="419.61" y1="293.70" x2="419.61" y2="295.90" stroke="#1e1e1e" stroke-width="1.1" />
<line x1="421.30" y1="293.70" x2="421.30" y2="296.90" stroke="#1e1e1e" stroke-width="1.1" />
<line x1="432.44" y1="293.70" x2="432.44" y2="295.90" stroke="#1e1e1e" stroke-width="1.1" />
<line x1="438.95" y1="293.70" x2="438.95" y2="295.90" stroke="#1e1e1e" stroke-width="1.1" />
<line x1="443.58" y1="293.70" x2="443.58" y2="295.90" stroke="#1e1e1e" stroke-width="1.1" />
<line x1="447.16" y1="293.70" x2="447.16" y2="295.90" stroke="#1e1e1e" stroke-width="1.1" />
<line x1="450.09" y1="293.70" x2="450.09" y2="295.90" stroke="#1e1e1e" stroke-width="1.1" />
<line x1="452.57" y1="293.70" x2="452.57" y2="295.90" stroke="#1e1e1e" stroke-width="1.1" />
<line x1="454.71" y1="293.70" x2="454.71" y2="295.90" stroke="#1e1e1e" stroke-width="1.1" />
<line x1="456.61" y1="293.70" x2="456.61" y2="295.90" stroke="#1e1e1e" stroke-width="1.1" />
<line x1="458.30" y1="293.70" x2="458.30" y2="296.90" stroke="#1e1e1e" stroke-width="1.1" />
<line x1="469.44" y1="293.70" x2="469.44" y2="295.90" stroke="#1e1e1e" stroke-width="1.1" />
<line x1="475.95" y1="293.70" x2="475.95" y2="295.90" stroke="#1e1e1e" stroke-width="1.1" />
<line x1="480.58" y1="293.70" x2="480.58" y2="295.90" stroke="#1e1e1e" stroke-width="1.1" />
<line x1="484.16" y1="293.70" x2="484.16" y2="295.90" stroke="#1e1e1e" stroke-width="1.1" />
<line x1="487.09" y1="293.70" x2="487.09" y2="295.90" stroke="#1e1e1e" stroke-width="1.1" />
<line x1="489.57" y1="293.70" x2="489.57" y2="295.90" stroke="#1e1e1e" stroke-width="1.1" />
<line x1="491.71" y1="293.70" x2="491.71" y2="295.90" stroke="#1e1e1e" stroke-width="1.1" />
<line x1="493.61" y1="293.70" x2="493.61" y2="295.90" stroke="#1e1e1e" stroke-width="1.1" />
<line x1="495.30" y1="293.70" x2="495.30" y2="296.90" stroke="#1e1e1e" stroke-width="1.1" />
<line x1="506.44" y1="293.70" x2="506.44" y2="295.90" stroke="#1e1e1e" stroke-width="1.1" />
<line x1="512.95" y1="293.70" x2="512.95" y2="295.90" stroke="#1e1e1e" stroke-width="1.1" />
<line x1="517.58" y1="293.70" x2="517.58" y2="295.90" stroke="#1e1e1e" stroke-width="1.1" />
<text x="421.30" y="307.20" font-size="8.9" fill="#3a3a3a" stroke="#3a3a3a" stroke-width="0.2" text-anchor="middle">0.1</text>
<text x="458.30" y="307.20" font-size="8.9" fill="#3a3a3a" stroke="#3a3a3a" stroke-width="0.2" text-anchor="middle">1.0</text>
<text x="495.30" y="307.20" font-size="8.9" fill="#3a3a3a" stroke="#3a3a3a" stroke-width="0.2" text-anchor="middle">10.0</text>
<text x="461.60" y="321.90" font-size="10.4" fill="#3a3a3a" stroke="#3a3a3a" stroke-width="0.2" text-anchor="middle" textLength="76.80" lengthAdjust="spacingAndGlyphs">Hazard ratio (95%-CI)</text>
<line x1="452.90" y1="231.80" x2="490.00" y2="231.80" stroke="#1a1a1a" stroke-width="1.3" />
<line x1="452.90" y1="230.10" x2="452.90" y2="233.50" stroke="#1a1a1a" stroke-width="1.4" />
<line x1="490.00" y1="230.10" x2="490.00" y2="233.50" stroke="#1a1a1a" stroke-width="1.4" />
<circle cx="471.30" cy="231.80" r="1.40" fill="#4a4aa0" stroke="none" stroke-width="0"/>
<line x1="461.60" y1="248.80" x2="476.00" y2="248.80" stroke="#1a1a1a" stroke-width="1.3" />
<line x1="461.60" y1="247.10" x2="461.60" y2="250.50" stroke="#1a1a1a" stroke-width="1.4" />
<line x1="476.00" y1="247.10" x2="476.00" y2="250.50" stroke="#1a1a1a" stroke-width="1.4" />
<circle cx="468.80" cy="248.80" r="3.60" fill="#3b3b8f" stroke="none" stroke-width="0"/>
<line x1="455.40" y1="266.10" x2="479.00" y2="266.10" stroke="#1a1a1a" stroke-width="1.3" />
<line x1="455.40" y1="264.40" x2="455.40" y2="267.80" stroke="#1a1a1a" stroke-width="1.4" />
<line x1="479.00" y1="264.40" x2="479.00" y2="267.80" stroke="#1a1a1a" stroke-width="1.4" />
<circle cx="466.60" cy="266.10" r="2.30" fill="#3d5a96" stroke="none" stroke-width="0"/>
<line x1="458.30" y1="283.20" x2="471.40" y2="283.20" stroke="#1a1a1a" stroke-width="1.3" />
<line x1="458.30" y1="281.50" x2="458.30" y2="284.90" stroke="#1a1a1a" stroke-width="1.4" />
<line x1="471.40" y1="281.50" x2="471.40" y2="284.90" stroke="#1a1a1a" stroke-width="1.4" />
<circle cx="464.50" cy="283.20" r="4.60" fill="#21808e" stroke="none" stroke-width="0"/>
<text x="325.30" y="350.70" font-size="11.8" fill="#000" stroke="#000" stroke-width="0.3" font-weight="bold">E</text>
<text x="356.20" y="367.80" font-size="9.2" fill="#3a3a3a" stroke="#3a3a3a" stroke-width="0.2" font-style="italic" textLength="29.50" lengthAdjust="spacingAndGlyphs">PPM1D</text>
<text x="356.20" y="384.50" font-size="9.2" fill="#3a3a3a" stroke="#3a3a3a" stroke-width="0.2" font-style="italic" textLength="20.50" lengthAdjust="spacingAndGlyphs">TET2</text>
<text x="356.20" y="402.00" font-size="9.2" fill="#3a3a3a" stroke="#3a3a3a" stroke-width="0.2" font-style="italic" textLength="25.00" lengthAdjust="spacingAndGlyphs">ASXL1</text>
<text x="356.20" y="419.20" font-size="9.2" fill="#3a3a3a" stroke="#3a3a3a" stroke-width="0.2" font-style="italic" textLength="36.60" lengthAdjust="spacingAndGlyphs">DNMT3A</text>
<line x1="449.10" y1="357.50" x2="449.10" y2="427.00" stroke="#222" stroke-width="1.5" stroke-dasharray="2 2.6"/>
<line x1="389.40" y1="427.00" x2="520.00" y2="427.00" stroke="#1e1e1e" stroke-width="1.25" />
<line x1="390.11" y1="427.00" x2="390.11" y2="429.20" stroke="#1e1e1e" stroke-width="1.1" />
<line x1="394.20" y1="427.00" x2="394.20" y2="429.20" stroke="#1e1e1e" stroke-width="1.1" />
<line x1="397.54" y1="427.00" x2="397.54" y2="429.20" stroke="#1e1e1e" stroke-width="1.1" />
<line x1="400.36" y1="427.00" x2="400.36" y2="429.20" stroke="#1e1e1e" stroke-width="1.1" />
<line x1="402.81" y1="427.00" x2="402.81" y2="429.20" stroke="#1e1e1e" stroke-width="1.1" />
<line x1="404.97" y1="427.00" x2="404.97" y2="429.20" stroke="#1e1e1e" stroke-width="1.1" />
<line x1="406.90" y1="427.00" x2="406.90" y2="430.20" stroke="#1e1e1e" stroke-width="1.1" />
<line x1="419.60" y1="427.00" x2="419.60" y2="429.20" stroke="#1e1e1e" stroke-width="1.1" />
<line x1="427.03" y1="427.00" x2="427.03" y2="429.20" stroke="#1e1e1e" stroke-width="1.1" />
<line x1="432.31" y1="427.00" x2="432.31" y2="429.20" stroke="#1e1e1e" stroke-width="1.1" />
<line x1="436.40" y1="427.00" x2="436.40" y2="429.20" stroke="#1e1e1e" stroke-width="1.1" />
<line x1="439.74" y1="427.00" x2="439.74" y2="429.20" stroke="#1e1e1e" stroke-width="1.1" />
<line x1="442.56" y1="427.00" x2="442.56" y2="429.20" stroke="#1e1e1e" stroke-width="1.1" />
<line x1="445.01" y1="427.00" x2="445.01" y2="429.20" stroke="#1e1e1e" stroke-width="1.1" />
<line x1="447.17" y1="427.00" x2="447.17" y2="429.20" stroke="#1e1e1e" stroke-width="1.1" />
<line x1="449.10" y1="427.00" x2="449.10" y2="430.20" stroke="#1e1e1e" stroke-width="1.1" />
<line x1="461.80" y1="427.00" x2="461.80" y2="429.20" stroke="#1e1e1e" stroke-width="1.1" />
<line x1="469.23" y1="427.00" x2="469.23" y2="429.20" stroke="#1e1e1e" stroke-width="1.1" />
<line x1="474.51" y1="427.00" x2="474.51" y2="429.20" stroke="#1e1e1e" stroke-width="1.1" />
<line x1="478.60" y1="427.00" x2="478.60" y2="429.20" stroke="#1e1e1e" stroke-width="1.1" />
<line x1="481.94" y1="427.00" x2="481.94" y2="429.20" stroke="#1e1e1e" stroke-width="1.1" />
<line x1="484.76" y1="427.00" x2="484.76" y2="429.20" stroke="#1e1e1e" stroke-width="1.1" />
<line x1="487.21" y1="427.00" x2="487.21" y2="429.20" stroke="#1e1e1e" stroke-width="1.1" />
<line x1="489.37" y1="427.00" x2="489.37" y2="429.20" stroke="#1e1e1e" stroke-width="1.1" />
<line x1="491.30" y1="427.00" x2="491.30" y2="430.20" stroke="#1e1e1e" stroke-width="1.1" />
<line x1="504.00" y1="427.00" x2="504.00" y2="429.20" stroke="#1e1e1e" stroke-width="1.1" />
<line x1="511.43" y1="427.00" x2="511.43" y2="429.20" stroke="#1e1e1e" stroke-width="1.1" />
<line x1="516.71" y1="427.00" x2="516.71" y2="429.20" stroke="#1e1e1e" stroke-width="1.1" />
<text x="406.90" y="440.60" font-size="8.9" fill="#3a3a3a" stroke="#3a3a3a" stroke-width="0.2" text-anchor="middle">0.1</text>
<text x="449.10" y="440.60" font-size="8.9" fill="#3a3a3a" stroke="#3a3a3a" stroke-width="0.2" text-anchor="middle">1.0</text>
<text x="491.30" y="440.60" font-size="8.9" fill="#3a3a3a" stroke="#3a3a3a" stroke-width="0.2" text-anchor="middle">10.0</text>
<text x="452.80" y="454.90" font-size="10.4" fill="#3a3a3a" stroke="#3a3a3a" stroke-width="0.2" text-anchor="middle" textLength="76.00" lengthAdjust="spacingAndGlyphs">Hazard ratio (95%-CI)</text>
<line x1="459.70" y1="365.20" x2="493.70" y2="365.20" stroke="#1a1a1a" stroke-width="1.3" />
<line x1="459.70" y1="363.50" x2="459.70" y2="366.90" stroke="#1a1a1a" stroke-width="1.4" />
<line x1="493.70" y1="363.50" x2="493.70" y2="366.90" stroke="#1a1a1a" stroke-width="1.4" />
<circle cx="477.10" cy="365.20" r="1.60" fill="#a8d46a" stroke="none" stroke-width="0"/>
<line x1="451.90" y1="382.40" x2="472.00" y2="382.40" stroke="#1a1a1a" stroke-width="1.3" />
<line x1="451.90" y1="380.70" x2="451.90" y2="384.10" stroke="#1a1a1a" stroke-width="1.4" />
<line x1="472.00" y1="380.70" x2="472.00" y2="384.10" stroke="#1a1a1a" stroke-width="1.4" />
<circle cx="462.00" cy="382.40" r="3.20" fill="#2a6f90" stroke="none" stroke-width="0"/>
<line x1="443.80" y1="399.80" x2="474.80" y2="399.80" stroke="#1a1a1a" stroke-width="1.3" />
<line x1="443.80" y1="398.10" x2="443.80" y2="401.50" stroke="#1a1a1a" stroke-width="1.4" />
<line x1="474.80" y1="398.10" x2="474.80" y2="401.50" stroke="#1a1a1a" stroke-width="1.4" />
<circle cx="459.40" cy="399.80" r="2.30" fill="#3b5a8b" stroke="none" stroke-width="0"/>
<line x1="442.40" y1="416.60" x2="461.80" y2="416.60" stroke="#1a1a1a" stroke-width="1.3" />
<line x1="442.40" y1="414.90" x2="442.40" y2="418.30" stroke="#1a1a1a" stroke-width="1.4" />
<line x1="461.80" y1="414.90" x2="461.80" y2="418.30" stroke="#1a1a1a" stroke-width="1.4" />
<circle cx="451.90" cy="416.60" r="4.10" fill="#21718f" stroke="none" stroke-width="0"/>
<text x="389.20" y="468.90" font-size="9.2" fill="#3a3a3a" stroke="#3a3a3a" stroke-width="0.2" textLength="54.70" lengthAdjust="spacingAndGlyphs">Patient number</text>
<circle cx="393.20" cy="478.00" r="1.90" fill="#111" stroke="none" stroke-width="0"/>
<text x="401.90" y="480.90" font-size="8.9" fill="#3a3a3a" stroke="#3a3a3a" stroke-width="0.2" textLength="8.60" lengthAdjust="spacingAndGlyphs">20</text>
<circle cx="393.20" cy="486.80" r="2.60" fill="#111" stroke="none" stroke-width="0"/>
<text x="401.90" y="490.90" font-size="8.9" fill="#3a3a3a" stroke="#3a3a3a" stroke-width="0.2" textLength="8.60" lengthAdjust="spacingAndGlyphs">50</text>
<circle cx="393.20" cy="496.90" r="3.90" fill="#111" stroke="none" stroke-width="0"/>
<text x="401.90" y="500.70" font-size="8.9" fill="#3a3a3a" stroke="#3a3a3a" stroke-width="0.2" textLength="13.20" lengthAdjust="spacingAndGlyphs">100</text>
<circle cx="393.20" cy="507.80" r="4.50" fill="#111" stroke="none" stroke-width="0"/>
<text x="401.90" y="510.80" font-size="8.9" fill="#3a3a3a" stroke="#3a3a3a" stroke-width="0.2" textLength="13.20" lengthAdjust="spacingAndGlyphs">150</text>
<text x="471.00" y="469.00" font-size="9.2" fill="#3a3a3a" stroke="#3a3a3a" stroke-width="0.2" textLength="42.00" lengthAdjust="spacingAndGlyphs">Median age</text>
<defs><linearGradient id="vir" x1="0" y1="1" x2="0" y2="0"><stop offset="0" stop-color="#440154"/><stop offset="0.25" stop-color="#3b528b"/><stop offset="0.5" stop-color="#21918c"/><stop offset="0.75" stop-color="#5ec962"/><stop offset="1" stop-color="#fde725"/></linearGradient></defs>
<rect x="470.6" y="476.9" width="4.2" height="37.5" fill="url(#vir)"/>
<text x="478.00" y="480.90" font-size="8.9" fill="#3a3a3a" stroke="#3a3a3a" stroke-width="0.2">80</text>
<text x="478.00" y="499.10" font-size="8.9" fill="#3a3a3a" stroke="#3a3a3a" stroke-width="0.2">75</text>
<text x="478.00" y="517.80" font-size="8.9" fill="#3a3a3a" stroke="#3a3a3a" stroke-width="0.2">70</text>
</svg>
</body></html>
